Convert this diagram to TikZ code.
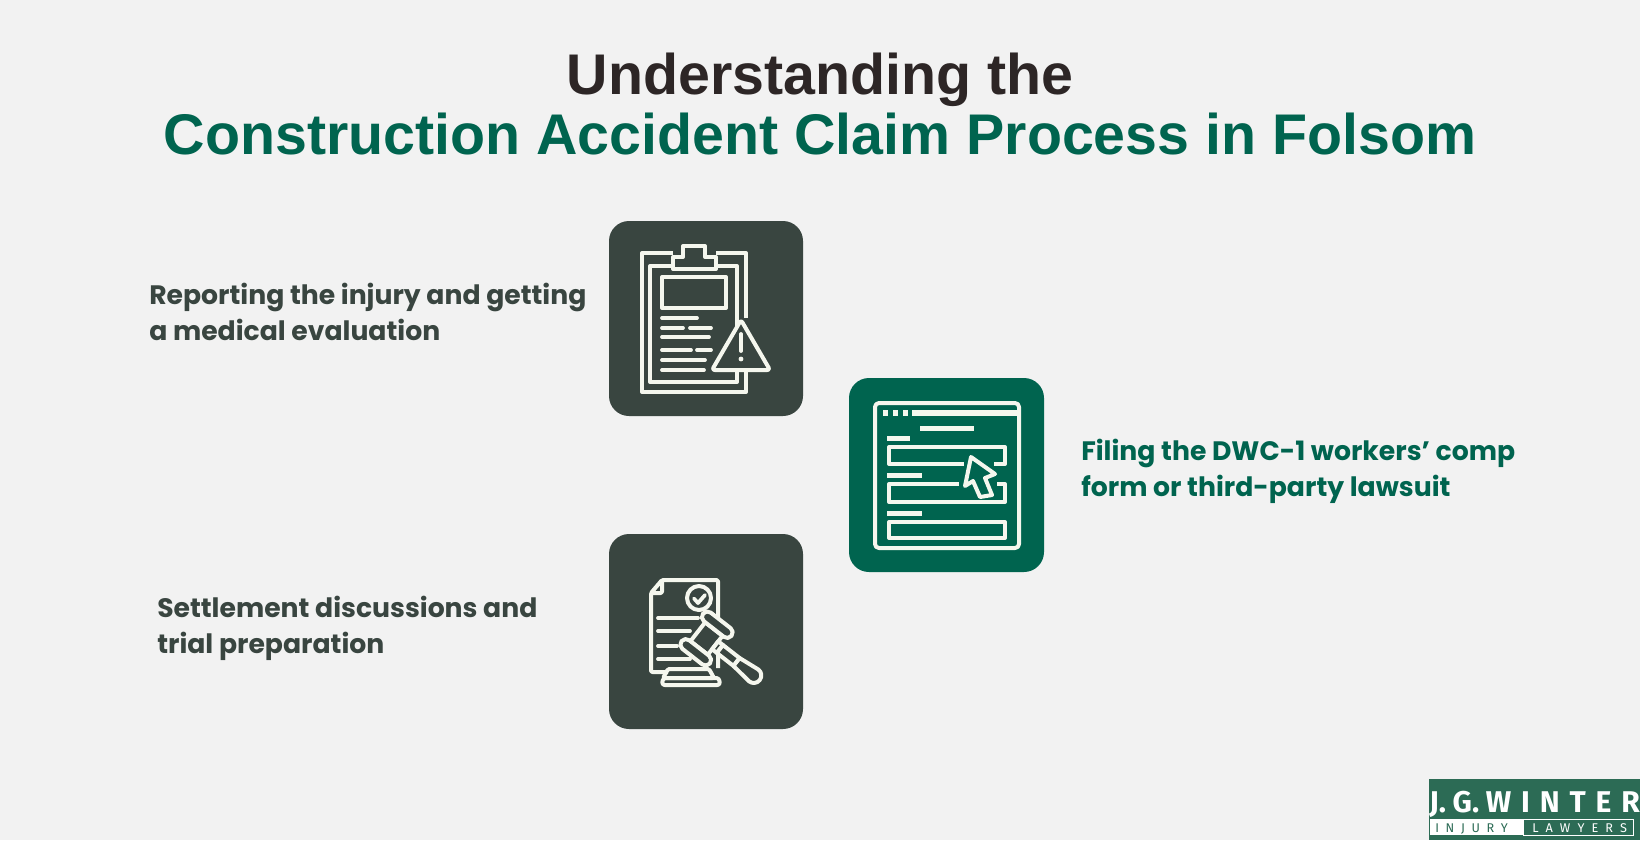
\documentclass[tikz,border=0pt]{standalone}
\usepackage{fontspec}
\setmainfont{Poppins}
\newfontfamily\titlefont{Liberation Sans}
\newfontfamily\logofont{Fira Sans}
\definecolor{pagegray}{RGB}{242,242,242}
\definecolor{slate}{RGB}{57,69,64}
\definecolor{pine}{RGB}{0,100,79}
\definecolor{titledark}{RGB}{45,38,38}
\definecolor{logogreen}{RGB}{44,107,85}
\definecolor{iconwhite}{RGB}{245,247,238}
\tikzset{
  iconline/.style={draw=iconwhite,line width=3pt,line join=round},
  iconthin/.style={draw=iconwhite,line width=2.8pt,line join=round,line cap=round},
  bodytext/.style={anchor=north west,inner sep=0.75pt,align=left,font=\fontsize{20}{27}\selectfont\bfseries},
}
\begin{document}
\begin{tikzpicture}[x=0.75pt,y=0.75pt,yscale=-1,xscale=1]
\useasboundingbox (0,0) rectangle (1640,840);
\fill [pagegray] (0,0) rectangle (1640,840);

%Shape: Rectangle
\fill [slate, rounded corners=15pt] (609,221) rectangle (803,416);
\fill [pine, rounded corners=15pt] (849,378) rectangle (1044,572);
\fill [slate, rounded corners=15pt] (609,534) rectangle (803,729);

%Clipboard
\draw [iconline] (673,253) -- (642,253) -- (642,392) -- (746,392) -- (746,371);
\draw [iconline] (746,318) -- (746,253) -- (716,253);
\draw [iconline] (673,266) -- (650,266) -- (650,382) -- (737,382) -- (737,371);
\draw [iconline] (737,326) -- (737,266) -- (716,266);
\draw [iconline] (673,269) -- (673,257) -- (683,257) -- (683,246) -- (705,246) -- (705,257) -- (716,257) -- (716,269) -- cycle;
\draw [iconline] (662,277) rectangle (726,308);
\draw [iconthin] (662,318) -- (697,318);
\draw [iconthin] (662,328) -- (683,328) (690,328) -- (711,328);
\draw [iconthin] (662,337) -- (709,337);
\draw [iconthin] (662,350) -- (691,350) (697,350) -- (711,350);
\draw [iconthin] (662,360) -- (705,360);
\draw [iconthin] (662,370) -- (704,370);
%Warning triangle
\draw [iconline, rounded corners=2pt] (741,320) -- (770,370) -- (712,370) -- cycle;
\draw [iconthin] (741,334) -- (741,351);
\fill [iconwhite] (741,359) circle (2.4);

%Browser form
\draw [iconline, rounded corners=3pt] (875,403) rectangle (1019,548);
\fill [iconwhite] (883,410) rectangle (888,416);
\fill [iconwhite] (893,410) rectangle (898,416);
\fill [iconwhite] (903,410) rectangle (908,416);
\fill [iconwhite] (912,410) rectangle (1017,416);
\fill [iconwhite] (920,426) rectangle (974,431);
\fill [iconwhite] (887,436) rectangle (910,441);
\draw [iconline] (964,464) -- (889,464) -- (889,447) -- (1005,447) -- (1005,464) -- (994,464);
\fill [iconwhite] (887,473) rectangle (922,478);
\draw [iconline] (959,484) -- (889,484) -- (889,502) -- (1005,502) -- (1005,484) -- (997,484);
\fill [iconwhite] (887,511) rectangle (922,516);
\draw [iconline] (889,522) rectangle (1005,538);
%Cursor
\draw [iconline] (971,457) -- (995,474) -- (985,478) -- (992,495) -- (980,497) -- (973,481) -- (965,486) -- cycle;

%Document
\draw [iconline, rounded corners=1pt] (668,672) -- (651,672) -- (651,593) -- (662,580) -- (718,580) -- (718,668);
\draw [iconline, rounded corners=1pt] (662,580) -- (662,593) -- (651,593);
\draw [iconline] (699,598) circle (12);
\draw [iconthin] (694,598.5) -- (698,603) -- (705,595);
\draw [iconthin] (658,618) -- (698,618);
\draw [iconthin] (658,631) -- (690,631);
\draw [iconthin] (658,646) -- (677,646);
\draw [iconthin] (658,659) -- (690,659);
%Gavel
\begin{scope}[shift={(706.5,638.5)},rotate=38]
\draw [iconline, fill=slate] (-11,-12) rectangle (11,12);
\draw [iconline, fill=slate, rounded corners=4pt] (-18,-23) rectangle (18,-12);
\draw [iconline, fill=slate, rounded corners=4pt] (-18,12) rectangle (18,23);
\draw [iconline, fill=slate] (11,-5) rectangle (17,5);
\draw [iconline, fill=slate] (38,-5) -- (60,-7.5) arc (-90:90:7.5) -- (38,5) -- cycle;
\draw [iconline, fill=slate] (17,-5) rectangle (38,5);
\end{scope}
\draw [iconline, rounded corners=1pt] (668,669) -- (709,669) -- (714,678) -- (663,678) -- cycle;
\draw [iconline, rounded corners=2pt] (663,678) -- (719,678) -- (720,685) -- (662,685) -- cycle;

% Text Node
\node (title1) [anchor=base,inner sep=0.75pt,font=\titlefont\fontsize{43}{43}\selectfont\bfseries,text=titledark] at (820,94) {Understanding the};
% Text Node
\node (title2) [anchor=base,inner sep=0.75pt,font=\titlefont\fontsize{43}{43}\selectfont\bfseries,text=pine] at (820,154) {Construction Accident Claim Process in Folsom};
% Text Node
\node (step1) [bodytext,text=slate] at (148,282) {Reporting the injury and getting\\a medical evaluation};
% Text Node
\node (step2) [bodytext,text=pine] at (1080,438) {Filing the DWC-1 workers’ comp\\form or third-party lawsuit};
% Text Node
\node (step3) [bodytext,text=slate] at (156,595) {Settlement discussions and\\trial preparation};

%Logo
\fill [logogreen] (1429,779) rectangle (1640,840);
\fill [white] (1430,819) rectangle (1523,835);
\draw [white, line width=0.6pt] (1523,819) rectangle (1633,835);
\node (logoname) [anchor=base west,inner sep=0,text=white,font=\logofont\fontsize{22.5}{22.5}\selectfont\bfseries] at (1429,812) {J.\hspace{5pt}G.\hspace{5pt}W\hspace{7.4pt}I\hspace{7.4pt}N\hspace{7.4pt}T\hspace{7.4pt}E\hspace{7.4pt}R};
\node (logoinjury) [anchor=base west,inner sep=0,text=logogreen,font=\logofont\fontsize{9.5}{9.5}\selectfont] at (1435,832) {I\hspace{5pt}N\hspace{5pt}J\hspace{5pt}U\hspace{5pt}R\hspace{5pt}Y};
\node (logolawyers) [anchor=base west,inner sep=0,text=white,font=\logofont\fontsize{9.5}{9.5}\selectfont] at (1532,832) {L\hspace{5.3pt}A\hspace{5.3pt}W\hspace{5.3pt}Y\hspace{5.3pt}E\hspace{5.3pt}R\hspace{5.3pt}S};
\end{tikzpicture}
\end{document}
